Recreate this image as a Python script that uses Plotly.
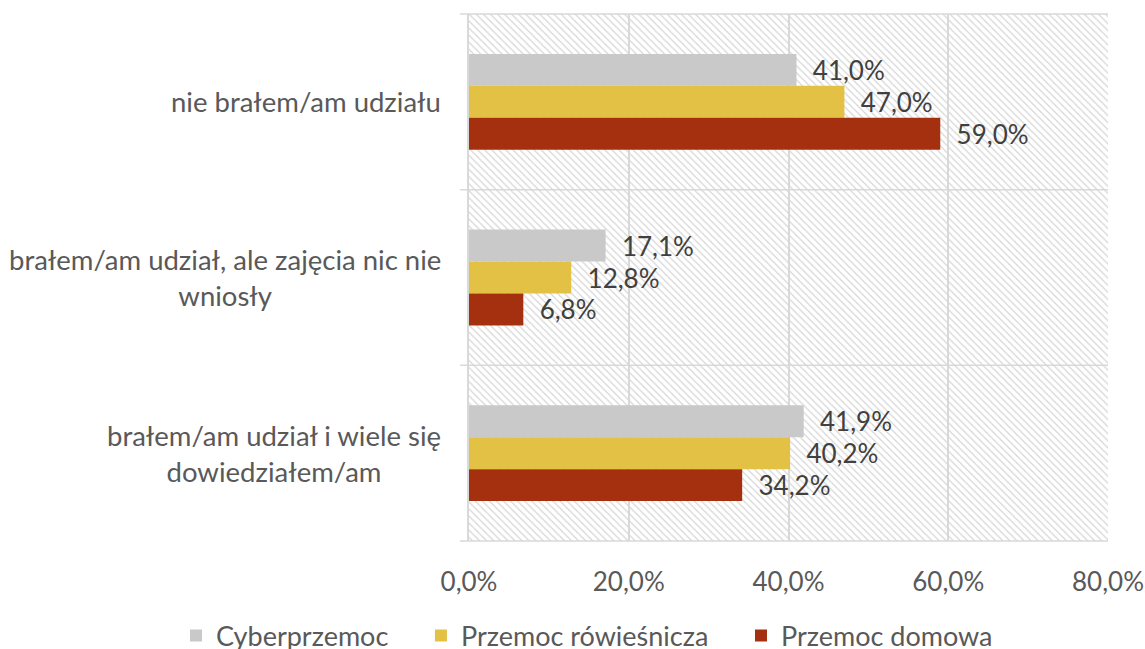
import plotly.graph_objects as go

categories = [
    "nie brałem/am udziału",
    "brałem/am udział, ale zajęcia nic nie<br>wniosły",
    "brałem/am udział i wiele się<br>dowiedziałem/am",
]
series_names = ["Cyberprzemoc", "Przemoc rówieśnicza", "Przemoc domowa"]
cyber = [41.0, 17.1, 41.9]
rowiesnicza = [47.0, 12.8, 40.2]
domowa = [59.0, 6.8, 34.2]
x_ticks = [0, 20, 40, 60, 80]
x_ticktext = [f"{v:.1f}%".replace(".", ",") for v in x_ticks]

colors = ["#C9C9C9", "#E3C144", "#A5300F"]
FONT = "Lato"
TXT = "#595959"
PAD = "\u00a0" * 4

fig = go.Figure()

# hatched plot background
fig.add_trace(go.Bar(
    y=categories, x=[x_ticks[-1]] * len(categories), orientation="h",
    width=1, offset=-0.5,
    marker=dict(color="rgba(0,0,0,0)", line=dict(width=0),
                pattern=dict(shape="\\", fgcolor="#D6D6D6", bgcolor="rgba(0,0,0,0)",
                             size=5, solidity=0.25, fillmode="replace")),
    hoverinfo="skip", showlegend=False,
))

bw = 0.182
offsets = [-1.5 * bw, -0.5 * bw, 0.5 * bw]
for name, vals, col, off in zip(series_names, [cyber, rowiesnicza, domowa], colors, offsets):
    fig.add_trace(go.Bar(
        y=categories, x=vals, orientation="h", name=name + PAD,
        width=bw, offset=off,
        marker=dict(color=col, line=dict(width=0)),
        texttemplate="\u00a0\u00a0%{x:.1f}%", textposition="outside",
        textfont=dict(family=FONT, size=26, color="#404040"),
        cliponaxis=False, constraintext="none",
    ))

# category label annotations (centered multi-line)
for c in categories:
    fig.add_annotation(
        x=-0.04, xref="paper", y=c, yref="y", text=c, showarrow=False,
        xanchor="right", align="center",
        font=dict(family=FONT, size=27.5, color=TXT),
    )

# category separators incl. small outward ticks
for k in range(len(categories) + 1):
    yy = k / len(categories)
    fig.add_shape(type="line", xref="paper", yref="paper", x0=-0.014, x1=1, y0=yy, y1=yy,
                  line=dict(color="#D9D9D9", width=1.5), layer="below")

fig.update_layout(
    width=1145, height=649,
    margin=dict(l=469, r=37, t=14, b=108, autoexpand=False),
    plot_bgcolor="white", paper_bgcolor="white",
    barmode="overlay", separators=",.",
    font=dict(family=FONT, size=26, color=TXT),
    showlegend=True,
    legend=dict(orientation="h", xref="paper", yref="paper",
                x=-0.4585, xanchor="left", y=-0.18, yanchor="middle",
                font=dict(family=FONT, size=27, color=TXT), traceorder="normal"),
    xaxis=dict(range=[x_ticks[0], x_ticks[-1]], tickmode="array", tickvals=x_ticks, ticktext=x_ticktext,
               showgrid=True, gridcolor="#D9D9D9", gridwidth=1.5, zeroline=False, automargin=False,
               showline=False, ticks="", ticklabelstandoff=23,
               tickfont=dict(family=FONT, size=26, color=TXT)),
    yaxis=dict(autorange="reversed", showticklabels=False, showgrid=False, zeroline=False,
               automargin=False,
               showline=True, linecolor="#D9D9D9", linewidth=1.5, ticks=""),
)

fig.write_html("out.html", config={"displayModeBar": False},
               post_script="document.body.style.margin='0';document.body.style.overflow='hidden';")
